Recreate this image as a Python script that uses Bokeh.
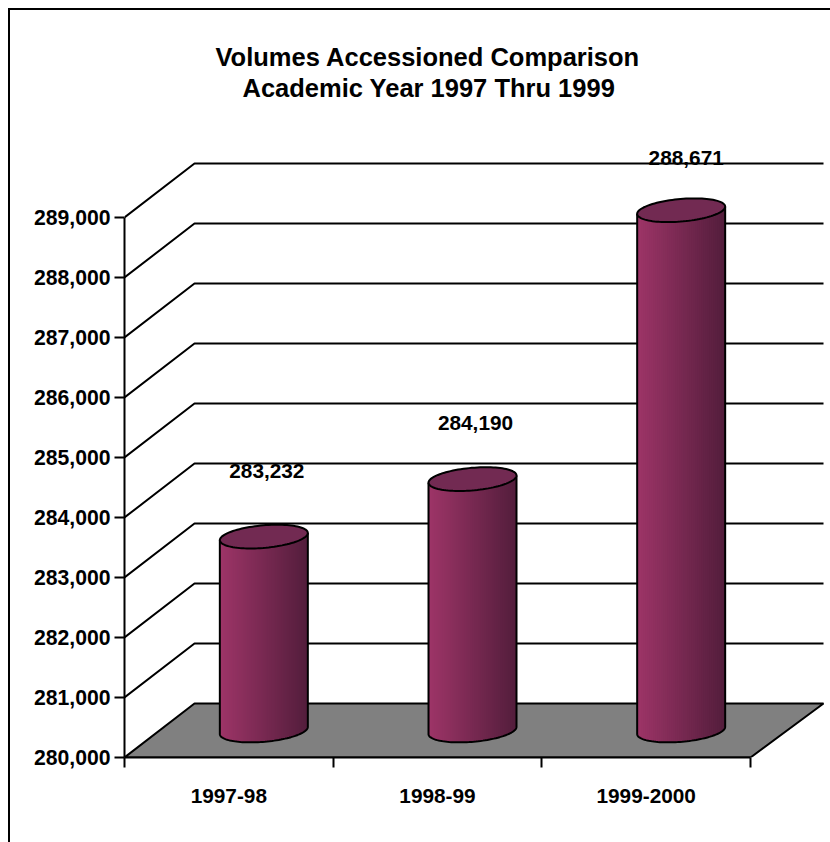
import numpy as np
from bokeh.embed import file_html
from bokeh.resources import INLINE
from bokeh.plotting import figure
from bokeh.models import FixedTicker, NumeralTickFormatter, Range1d, Title, ColumnDataSource
from bokeh.core.properties import value

# ---- data ----
categories = ["1997-98", "1998-99", "1999-2000"]
volumes = [283232, 284190, 288671]
value_labels = ["283,232", "284,190", "288,671"]
title_lines = ["Volumes Accessioned Comparison", "Academic Year 1997 Thru 1999"]
y_ticks = [280000, 281000, 282000, 283000, 284000, 285000, 286000, 287000, 288000, 289000]

# ---- layout (pixels on the page) ----
FONT = "Liberation Sans"
W, H = 822, 834
frame_left, frame_right, frame_top, frame_bottom = 116, 822, 94, 749
px_per_cat = 208.67
px_per_val = 60 / 1000
depth_x_px, depth_y_px = 70, 54
back_right_extra_px = 73
label_offset_px = [66, 56, 52]
label_shift_px = [3, 3, 5]
LW = 2

dx = depth_x_px / px_per_cat          # depth in x data units
dy = depth_y_px / px_per_val          # depth in y data units
dxr = back_right_extra_px / px_per_cat
n = len(categories)

p = figure(width=W, height=H, output_backend="svg", toolbar_location=None,
           x_range=Range1d(0, (frame_right - frame_left) / px_per_cat),
           y_range=Range1d(280000, 280000 + (frame_bottom - frame_top) / px_per_val),
           min_border_left=frame_left, min_border_right=0,
           min_border_top=frame_top, min_border_bottom=H - frame_bottom,
           frame_width=frame_right - frame_left, frame_height=frame_bottom - frame_top,
           outline_line_color=None, border_fill_color=None, margin=(8, 0, 0, 8),
           styles={"box-shadow": "inset 2px 2px 0 0 black"})
p.grid.visible = False

# titles
for line, off in zip(reversed(title_lines), [118, 91]):
    p.add_layout(Title(text=line, align="left", offset=off, text_font=FONT,
                       text_font_style="bold", text_font_size="25.5px",
                       text_color="black", standoff=1), "above")

# floor
p.patch([0, dx, n + dxr, n], [280000, 280000 + dy, 280000 + dy, 280000],
        fill_color="#808080", line_color="black", line_width=LW, level="underlay")

# gridlines: front edge, then along the back wall
for t in y_ticks[1:]:
    p.line([0, dx, n + dxr], [t, t + dy, t + dy], line_color="black", line_width=LW,
           level="underlay")

# cylinders
a_px, b_px, tilt = 44, 11.3, -3.6 / 44
centres = [i + 0.5 + dx / 2 for i in range(n)]
strips = 44


def lower(e):
    return (-(b_px * np.sqrt(np.clip(1 - (e / a_px) ** 2, 0, 1))) - tilt * e) / px_per_val


for c, v in zip(centres, volumes):
    base = 280000 + dy / 2
    top_y = v + dy / 2
    edges = np.linspace(-a_px, a_px, strips + 1)
    cols = []
    for i in range(strips):
        f = i / (strips - 1)
        cols.append("#%02x%02x%02x" % (int(157 + (84 - 157) * f),
                                       int(53 + (30 - 53) * f),
                                       int(104 + (60 - 104) * f)))
    xs, ys = [], []
    for i in range(strips):
        e0, e1 = edges[i], min(edges[i + 1] + 1, a_px)
        xs.append([c + e0 / px_per_cat, c + e1 / px_per_cat, c + e1 / px_per_cat, c + e0 / px_per_cat])
        ys.append([top_y - tilt * e0 / px_per_val, top_y - tilt * e1 / px_per_val,
                   base + lower(e1), base + lower(e0)])
    p.patches(xs, ys, fill_color=cols, line_color=None)

    # side and bottom outline
    t = np.linspace(np.pi, 2 * np.pi, 60)
    ex, ey = a_px * np.cos(t), b_px * np.sin(t)
    bx = c + ex / px_per_cat
    by = base + (ey - tilt * ex) / px_per_val
    p.line(np.r_[c - a_px / px_per_cat, bx, c + a_px / px_per_cat],
           np.r_[top_y - tilt * (-a_px) / px_per_val, by, top_y - tilt * a_px / px_per_val],
           line_color="black", line_width=LW)
    # top cap
    t = np.linspace(0, 2 * np.pi, 100)
    ex, ey = a_px * np.cos(t), b_px * np.sin(t)
    p.patch(c + ex / px_per_cat, top_y + (ey - tilt * ex) / px_per_val,
            fill_color="#722a52", line_color="black", line_width=LW)

# value labels
src = ColumnDataSource(dict(x=centres, y=[v + dy / 2 for v in volumes], text=value_labels,
                            xo=label_shift_px, yo=[-o for o in label_offset_px]))
p.text("x", "y", text="text", source=src, x_offset="xo", y_offset="yo",
       text_align="center", text_baseline="middle", text_font=value(FONT),
       text_font_style="bold", text_font_size="20.8px", text_color="black")

# axes
yax = p.yaxis[0]
yax.ticker = FixedTicker(ticks=y_ticks, minor_ticks=[])
yax.formatter = NumeralTickFormatter(format="0,0")
yax.bounds = (280000, 289000)
yax.axis_line_color = "black"
yax.axis_line_width = LW
yax.major_tick_in = 0
yax.major_tick_out = 10
yax.major_tick_line_width = LW
yax.major_tick_line_color = "black"
yax.major_label_standoff = 4
yax.major_label_text_font = FONT
yax.major_label_text_font_style = "bold"
yax.major_label_text_font_size = "21.2px"
yax.major_label_text_color = "black"

xax = p.xaxis[0]
centres_axis = [i + 0.5 for i in range(n)]
xax.ticker = FixedTicker(ticks=centres_axis, minor_ticks=list(range(n + 1)))
xax.major_label_overrides = {c: t for c, t in zip(centres_axis, categories)}
xax.bounds = (0, n)
xax.axis_line_color = "black"
xax.axis_line_width = LW
xax.major_tick_in = 0
xax.major_tick_out = 0
xax.minor_tick_in = 0
xax.minor_tick_out = 10
xax.minor_tick_line_width = LW
xax.minor_tick_line_color = "black"
xax.major_label_standoff = 21
xax.major_label_text_font = FONT
xax.major_label_text_font_style = "bold"
xax.major_label_text_font_size = "20.8px"
xax.major_label_text_color = "black"

open("out.html", "w").write(file_html(p, INLINE))
